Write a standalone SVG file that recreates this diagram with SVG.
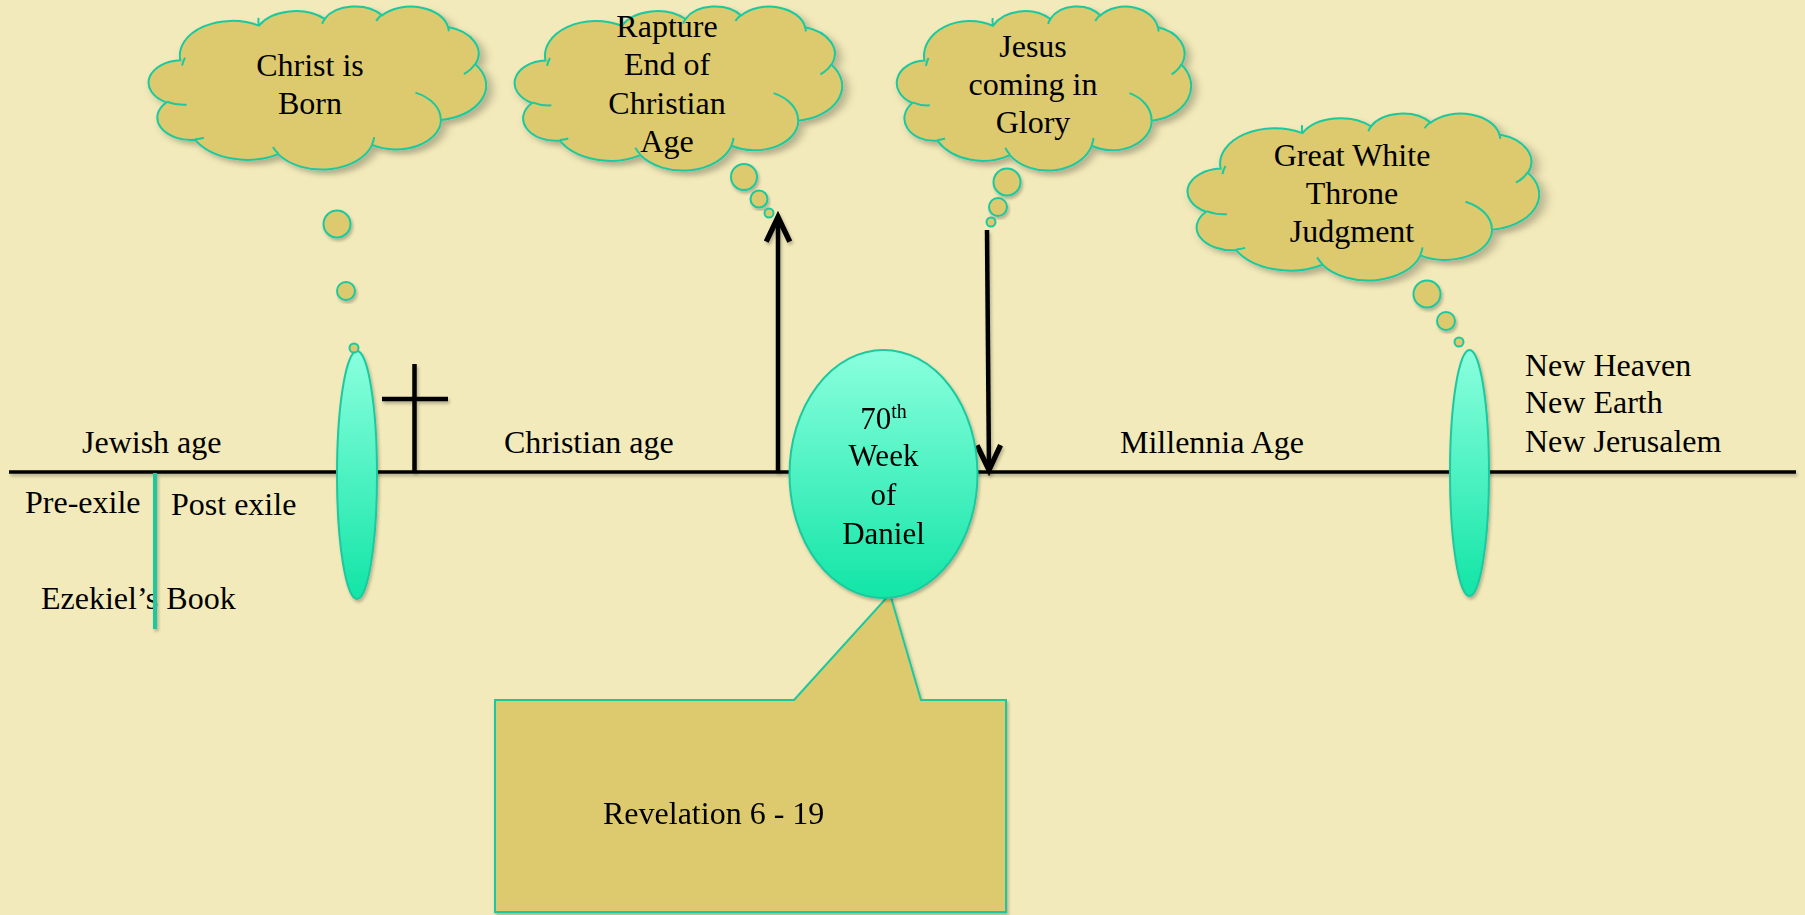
<svg xmlns="http://www.w3.org/2000/svg" xmlns:xlink="http://www.w3.org/1999/xlink" width="1805" height="915" viewBox="0 0 1805 915">
<style>
.t{font-family:"Liberation Serif","Times New Roman",serif;font-size:32px;fill:#000}
.c{text-anchor:middle}
.cloud{fill:#DDC96E;stroke:#1CC99E;stroke-width:2}
.inner{fill:none;stroke:#1CC99E;stroke-width:2}
.bub{fill:#DDC96E;stroke:#1CC99E;stroke-width:2}
.oval{stroke:#1CC99E;stroke-width:2}
.blk{stroke:#000;stroke-width:4.5;fill:none}
</style>
<defs>
<linearGradient id="g" x1="0" y1="0" x2="0" y2="1">
<stop offset="0" stop-color="#8AFFDE"/>
<stop offset="1" stop-color="#12E5A6"/>
</linearGradient>
<filter id="sh" x="-10%" y="-10%" width="130%" height="130%">
<feDropShadow dx="1.5" dy="2.5" stdDeviation="1.5" flood-color="#000" flood-opacity="0.25"/>
</filter>
<filter id="shl" filterUnits="userSpaceOnUse" x="0" y="0" width="1805" height="915">
<feDropShadow dx="1.5" dy="2.5" stdDeviation="1.5" flood-color="#000" flood-opacity="0.25"/>
</filter>
<g id="cloudShape">
<path class="cloud" vector-effect="non-scaling-stroke" d="M9.03,33.26 A15.63,21.27 0 0 1 32.42,12.04 A12.35,16.82 0 0 1 51.98,7.95 A10.10,13.76 0 0 1 69.06,5.74 A11.24,15.27 0 0 1 88.70,12.91 A12.35,16.84 0 0 1 96.81,35.79 A15.68,21.34 0 0 1 86.59,69.91 A13.39,18.21 0 0 1 66.11,85.22 A15.63,21.33 0 0 1 38.16,90.89 A17.87,24.41 0 0 1 13.44,82.11 A10.09,13.70 0 0 1 4.90,59.14 A10.06,13.76 0 0 1 9.03,33.26 Z"/>
<path class="inner" vector-effect="non-scaling-stroke" d="M10.86,60.59 A10.06,13.76 0 0 1 5.00,58.75 M16.04,80.78 A10.09,13.70 0 0 1 13.47,81.67 M38.14,90.49 A15.63,21.33 0 0 1 36.60,86.45 M66.73,80.44 A15.63,21.33 0 0 1 66.11,84.86 M79.00,53.13 A13.39,18.21 0 0 1 86.53,69.65 M96.75,35.54 A12.35,16.84 0 0 1 93.40,41.74 M88.71,12.56 A11.24,15.27 0 0 1 88.89,15.49 M67.31,9.15 A11.24,15.27 0 0 1 69.03,5.41 M51.25,10.93 A10.10,13.76 0 0 1 52.08,7.71 M32.41,12.02 A15.63,21.27 0 0 1 32.32,7.31 M9.55,36.55 A15.63,21.27 0 0 1 10.42,31.74"/>
</g>
<marker id="arr" markerUnits="userSpaceOnUse" markerWidth="40" markerHeight="40" viewBox="-28 -16 34 32" refX="0" refY="0" orient="auto">
<path d="M-21,-10 L0,0 L-21,10" fill="none" stroke="#000" stroke-width="4.5" stroke-linejoin="miter"/>
</marker>
</defs>
<rect width="1805" height="915" fill="#F2EABA"/>

<g id="timeline" filter="url(#shl)">
<line x1="9" y1="472" x2="1796" y2="472" stroke="#000" stroke-width="3.5"/>
</g>

<g id="labels">
<text class="t" x="82" y="453">Jewish age</text>
<text class="t" x="25" y="513">Pre-exile</text>
<text class="t" x="171" y="515">Post exile</text>
<text class="t" x="41" y="609">Ezekiel’s Book</text>
<text class="t" x="504" y="453">Christian age</text>
<text class="t" x="1120" y="453">Millennia Age</text>
<text class="t" x="1525" y="376">New Heaven</text>
<text class="t" x="1525" y="413">New Earth</text>
<text class="t" x="1525" y="452">New Jerusalem</text>
</g>

<g id="ezekiel-divider" filter="url(#shl)">
<line x1="155" y1="473" x2="155" y2="629" stroke="#1CC99E" stroke-width="4"/>
</g>

<g id="cross" filter="url(#shl)">
<line class="blk" x1="414.5" y1="364" x2="414.5" y2="472"/>
<line class="blk" x1="382" y1="399" x2="448" y2="399"/>
</g>

<g id="connectors" filter="url(#shl)">
<line class="blk" x1="778" y1="472" x2="778" y2="217" marker-end="url(#arr)"/>
<line class="blk" x1="987" y1="230" x2="989" y2="470" marker-end="url(#arr)"/>
</g>

<g id="oval-birth" filter="url(#sh)">
<ellipse class="oval" cx="357" cy="475" rx="20" ry="124" fill="url(#g)"/>
</g>
<g id="oval-throne" filter="url(#sh)">
<ellipse class="oval" cx="1469.5" cy="473" rx="19.5" ry="123" fill="url(#g)"/>
</g>

<g id="callout" filter="url(#sh)">
<path d="M495,700 L794,700 L890,594 L921,700 L1006,700 L1006,912 L495,912 Z" fill="#DDC96E" stroke="#1CC99E" stroke-width="2"/>
<text class="t" x="603" y="824">Revelation 6 - 19</text>
</g>

<g id="week70" filter="url(#sh)">
<ellipse class="oval" cx="883.5" cy="474" rx="94" ry="124" fill="url(#g)"/>
<text class="t c" x="883.5" y="429" style="font-size:31px">70<tspan dy="-11" style="font-size:20px">th</tspan></text>
<text class="t c" x="883.5" y="466" style="font-size:31px">Week</text>
<text class="t c" x="883.5" y="505" style="font-size:31px">of</text>
<text class="t c" x="883.5" y="544" style="font-size:31px">Daniel</text>
</g>

<g id="cloud-born">
<use xlink:href="#cloudShape" transform="translate(150,6) scale(3.36,1.63)" filter="url(#sh)"/>
<circle class="bub" cx="337" cy="224" r="13.5" filter="url(#sh)"/>
<circle class="bub" cx="346" cy="291" r="9" filter="url(#sh)"/>
<circle class="bub" cx="354" cy="348" r="4.5"/>
<text class="t c" x="310" y="76">Christ is</text>
<text class="t c" x="310" y="114">Born</text>
</g>

<g id="cloud-rapture">
<use xlink:href="#cloudShape" transform="translate(516,6) scale(3.26,1.64)" filter="url(#sh)"/>
<circle class="bub" cx="744" cy="177" r="13" filter="url(#sh)"/>
<circle class="bub" cx="759" cy="199" r="8.5" filter="url(#sh)"/>
<circle class="bub" cx="769" cy="213" r="4.5"/>
<text class="t c" x="667" y="37">Rapture</text>
<text class="t c" x="667" y="75">End of</text>
<text class="t c" x="667" y="114">Christian</text>
<text class="t c" x="667" y="152">Age</text>
</g>

<g id="cloud-glory">
<use xlink:href="#cloudShape" transform="translate(898,6) scale(2.93,1.64)" filter="url(#sh)"/>
<circle class="bub" cx="1007" cy="182" r="13.5" filter="url(#sh)"/>
<circle class="bub" cx="998" cy="207" r="9" filter="url(#sh)"/>
<circle class="bub" cx="991" cy="222" r="4.5"/>
<text class="t c" x="1033" y="57">Jesus</text>
<text class="t c" x="1033" y="95">coming in</text>
<text class="t c" x="1033" y="133">Glory</text>
</g>

<g id="cloud-throne">
<use xlink:href="#cloudShape" transform="translate(1189,113) scale(3.5,1.67)" filter="url(#sh)"/>
<circle class="bub" cx="1427" cy="294" r="13.5" filter="url(#sh)"/>
<circle class="bub" cx="1446" cy="321" r="9" filter="url(#sh)"/>
<circle class="bub" cx="1459" cy="342" r="4.5"/>
<text class="t c" x="1352" y="166">Great White</text>
<text class="t c" x="1352" y="204">Throne</text>
<text class="t c" x="1352" y="242">Judgment</text>
</g>
</svg>
